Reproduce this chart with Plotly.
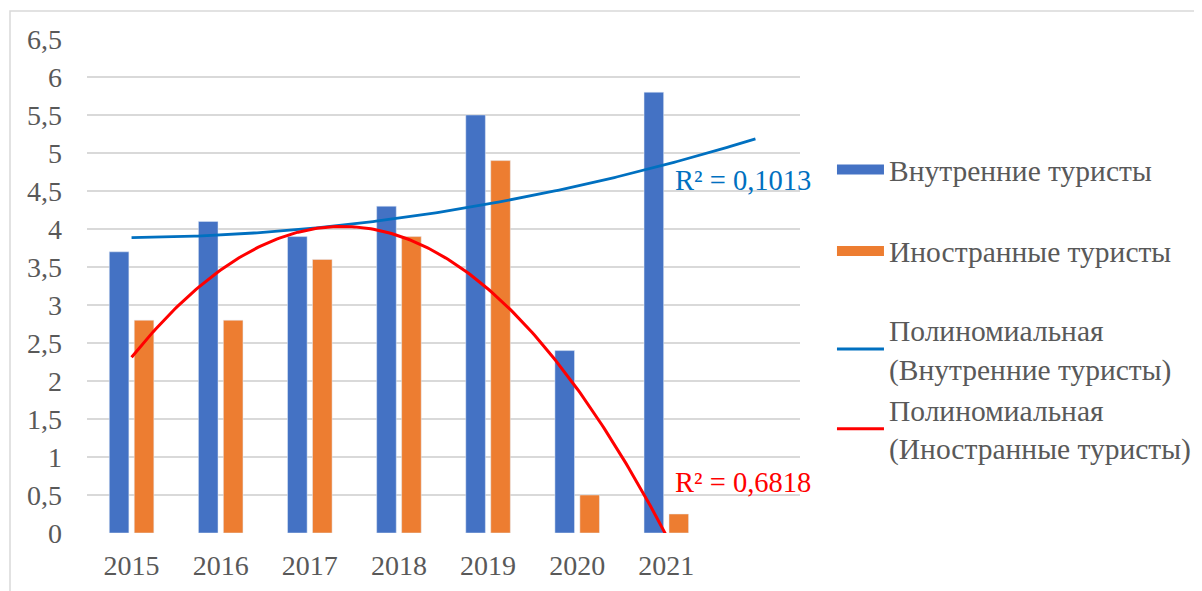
import numpy as np
import plotly.graph_objects as go

# Data
years = ['2015', '2016', '2017', '2018', '2019', '2020', '2021']
domestic = [3.7, 4.1, 3.9, 4.3, 5.5, 2.4, 5.8]
foreign = [2.8, 2.8, 3.6, 3.9, 4.9, 0.5, 0.25]
r2_domestic = '0,1013'
r2_foreign = '0,6818'
y_ticks = [0, 0.5, 1, 1.5, 2, 2.5, 3, 3.5, 4, 4.5, 5, 5.5, 6, 6.5]

BLUE = '#4472C4'
ORANGE = '#ED7D31'
TREND_BLUE = '#0070C0'
TREND_RED = '#FF0000'
TXT = '#595959'
FONT = '"Times New Roman", "Liberation Serif", "DejaVu Serif", serif'

idx = np.arange(1, len(years) + 1)

# Polynomial (2nd order) trendlines like Excel, blue one forecast 1 period forward
p_dom = np.polyfit(idx, domestic, 2)
p_for = np.polyfit(idx, foreign, 2)
x_dom = np.linspace(1, len(years) + 1, 200)
x_for = np.linspace(1, len(years), 200)

fig = go.Figure()

fig.add_trace(go.Bar(x=idx, y=domestic, marker_color=BLUE, width=0.22, offset=-0.25,
                     showlegend=False))
fig.add_trace(go.Bar(x=idx, y=foreign, marker_color=ORANGE, width=0.22, offset=0.03,
                     showlegend=False))

fig.add_trace(go.Scatter(x=x_dom, y=np.polyval(p_dom, x_dom), mode='lines',
                         line=dict(color=TREND_BLUE, width=2.8), showlegend=False))
fig.add_trace(go.Scatter(x=x_for, y=np.polyval(p_for, x_for), mode='lines',
                         line=dict(color=TREND_RED, width=3), showlegend=False))

# legend entries (wide swatches like in Excel)
fig.add_trace(go.Scatter(x=[None], y=[None], mode='lines', name='Внутренние туристы',
                         line=dict(color=BLUE, width=12), legend='legend', legendgroup='a'))
fig.add_trace(go.Scatter(x=[None], y=[None], mode='lines', name='Иностранные туристы',
                         line=dict(color=ORANGE, width=12), legend='legend', legendgroup='b'))
fig.add_trace(go.Scatter(x=[None], y=[None], mode='lines',
                         name='Полиномиальная<br>(Внутренние туристы)',
                         line=dict(color=TREND_BLUE, width=3), legend='legend2', legendgroup='c'))
fig.add_trace(go.Scatter(x=[None], y=[None], mode='lines',
                         name='Полиномиальная<br>(Иностранные туристы)',
                         line=dict(color=TREND_RED, width=3), legend='legend2', legendgroup='d'))

fig.add_annotation(x=7.08, y=4.64, xref='x', yref='y', text='R² = ' + r2_domestic,
                   showarrow=False, xanchor='left', font=dict(color=TREND_BLUE, size=28.5, family=FONT))
fig.add_annotation(x=7.08, y=0.66, xref='x', yref='y', text='R² = ' + r2_foreign,
                   showarrow=False, xanchor='left', font=dict(color=TREND_RED, size=28.5, family=FONT))

# outer chart border
fig.add_shape(type='rect', xref='paper', yref='paper', x0=-0.108, x1=1.5596, y0=-0.13, y1=1.0567,
              line=dict(color='#D9D9D9', width=1.5))

legend_font = dict(size=29.5, color=TXT, family=FONT)
fig.update_layout(
    width=1202, height=591,
    margin=dict(l=79, r=410, t=31, b=66),
    plot_bgcolor='white', paper_bgcolor='white',
    barmode='overlay',
    font=dict(family=FONT, color=TXT, size=28),
    xaxis=dict(range=[0.5, 8.5], tickvals=list(idx), ticktext=years, showgrid=False,
               zeroline=False, showline=False, ticks='', ticklabelstandoff=13,
               tickfont=dict(size=28, color=TXT, family=FONT)),
    yaxis=dict(range=[0, 6.5], tickvals=y_ticks,
               ticktext=[str(v).replace('.', ',').rstrip('0').rstrip(',') if v != 0 else '0' for v in y_ticks],
               showgrid=True, gridcolor='#D9D9D9', gridwidth=1.5, zeroline=False,
               ticks='', ticklabelstandoff=24,
               tickfont=dict(size=28, color=TXT, family=FONT)),
    legend=dict(x=0.6855, y=0.77, xref='container', yref='container',
                xanchor='left', yanchor='top', font=legend_font,
                tracegroupgap=40, itemwidth=47, bgcolor='rgba(0,0,0,0)'),
    legend2=dict(x=0.6855, y=0.499, xref='container', yref='container',
                 xanchor='left', yanchor='top', font=legend_font,
                 tracegroupgap=0, itemwidth=47, bgcolor='rgba(0,0,0,0)'),
)

fig.write_html('out.html')
